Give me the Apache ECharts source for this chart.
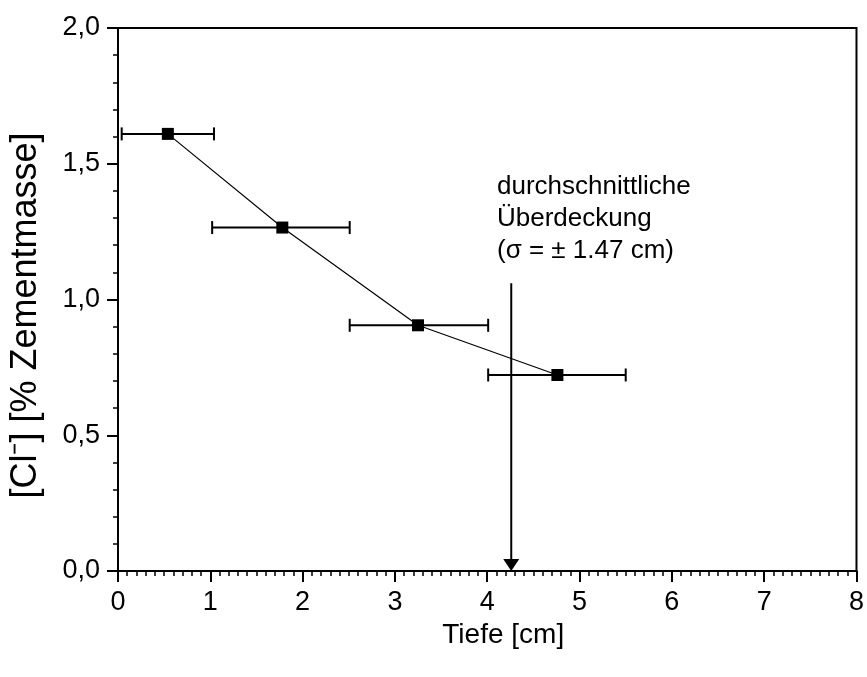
<!DOCTYPE html>
<html>
<head>
<meta charset="utf-8">
<script src="https://cdn.jsdelivr.net/npm/echarts@6/dist/echarts.min.js"></script>
<style>html,body{margin:0;padding:0;background:#fff}#c{width:867px;height:677px}</style>
</head>
<body>
<div id="c"></div>
<script>
// Data
var depth = [0.54, 1.78, 3.25, 4.76];
var chloride = [1.61, 1.265, 0.905, 0.722];
var depthLow = [0.04, 1.02, 2.51, 4.01];
var depthHigh = [1.04, 2.51, 4.01, 5.50];
var coverDepth = 4.26;
var arrowTop = 1.06;
var xTicks = [0, 1, 2, 3, 4, 5, 6, 7, 8];
var yTicks = [0, 0.5, 1.0, 1.5, 2.0];
var noteLines = ['durchschnittliche', '\u00DCberdeckung', '(\u03C3 = \u00B1 1.47 cm)'];

var font = '"Liberation Sans", Arial, sans-serif';
var chart = echarts.init(document.getElementById('c'), null, {renderer: 'canvas'});

var errData = depth.map(function (d, i) { return [depthLow[i], depthHigh[i], chloride[i]]; });
var lineData = depth.map(function (d, i) { return [d, chloride[i]]; });

chart.setOption({
  animation: false,
  backgroundColor: '#fff',
  grid: {left: 118, right: 7, top: 28, bottom: 106, show: true, borderColor: '#000', borderWidth: 2},
  xAxis: {
    type: 'value', min: xTicks[0], max: xTicks[xTicks.length - 1], interval: 1,
    name: 'Tiefe [cm]', nameLocation: 'middle', nameGap: 48,
    nameTextStyle: {fontFamily: font, fontSize: 28, color: '#000', padding: [0, 0, 0, 32]},
    axisLine: {lineStyle: {color: '#000', width: 2}},
    axisTick: {length: 11, lineStyle: {color: '#000', width: 2}},
    minorTick: {show: true, splitNumber: 10, length: 5, lineStyle: {color: '#000', width: 1.5}},
    splitLine: {show: false},
    axisLabel: {fontFamily: font, fontSize: 27, color: '#000', margin: 18}
  },
  yAxis: {
    type: 'value', min: yTicks[0], max: yTicks[yTicks.length - 1], interval: 0.5,
    name: '[Cl\u207B] [% Zementmasse]', nameLocation: 'middle', nameGap: 74,
    nameTextStyle: {fontFamily: font, fontSize: 36, color: '#000', padding: [0, 32, 0, 0]},
    axisLine: {lineStyle: {color: '#000', width: 2}},
    axisTick: {length: 11, lineStyle: {color: '#000', width: 2}},
    minorTick: {show: true, splitNumber: 5, length: 5, lineStyle: {color: '#000', width: 1.5}},
    splitLine: {show: false},
    axisLabel: {fontFamily: font, fontSize: 27, color: '#000', margin: 18,
      formatter: function (v) { return v.toFixed(1).replace('.', ','); }}
  },
  series: [
    {
      type: 'custom',
      data: errData,
      z: 2,
      renderItem: function (params, api) {
        var a = api.coord([api.value(0), api.value(2)]);
        var b = api.coord([api.value(1), api.value(2)]);
        var cap = 6.5;
        var st = {stroke: '#000', lineWidth: 2};
        return {type: 'group', children: [
          {type: 'line', shape: {x1: a[0], y1: a[1], x2: b[0], y2: b[1]}, style: st},
          {type: 'line', shape: {x1: a[0], y1: a[1] - cap, x2: a[0], y2: a[1] + cap}, style: st},
          {type: 'line', shape: {x1: b[0], y1: b[1] - cap, x2: b[0], y2: b[1] + cap}, style: st}
        ]};
      }
    },
    {
      type: 'custom',
      data: [[coverDepth, arrowTop, 0]],
      z: 2,
      renderItem: function (params, api) {
        var t = api.coord([api.value(0), api.value(1)]);
        var b = api.coord([api.value(0), api.value(2)]);
        var hw = 8, hh = 12;
        return {type: 'group', children: [
          {type: 'line', shape: {x1: t[0], y1: t[1], x2: b[0], y2: b[1] - hh}, style: {stroke: '#000', lineWidth: 2}},
          {type: 'polygon', shape: {points: [[b[0] - hw, b[1] - hh], [b[0] + hw, b[1] - hh], [b[0], b[1]]]}, style: {fill: '#000'}}
        ]};
      }
    },
    {
      type: 'line',
      data: lineData,
      z: 3,
      symbol: 'rect', symbolSize: 12,
      itemStyle: {color: '#000'},
      lineStyle: {color: '#000', width: 1.2}
    }
  ],
  graphic: noteLines.map(function (t, i) {
    return {type: 'text', left: 497, top: 174 + i * 32,
      style: {text: t, font: '26px ' + font, fill: '#000'}};
  })
});
</script>
</body>
</html>
